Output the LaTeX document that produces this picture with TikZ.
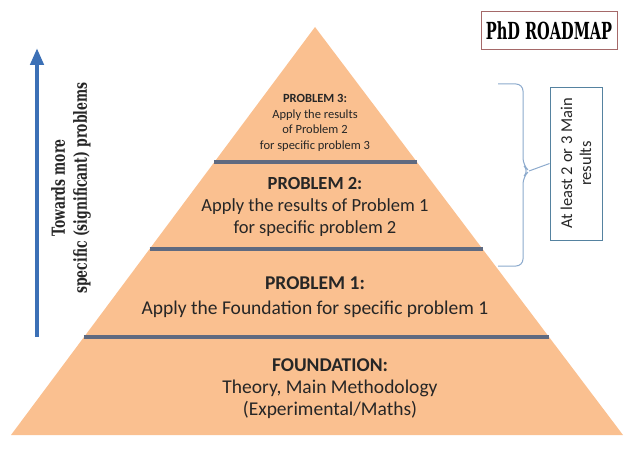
\documentclass[tikz,border=0pt]{standalone}
\usepackage{fontspec}
\setmainfont{Carlito}
\newfontfamily\slabfont{DejaVu Serif}
\usepackage{tikz}
\usetikzlibrary{arrows.meta,calc}
\definecolor{peach}{HTML}{FAC090}
\definecolor{sepgray}{RGB}{95,106,128}
\definecolor{arrowblue}{RGB}{60,112,182}
\definecolor{bracegray}{RGB}{140,170,205}
\definecolor{noteblue}{RGB}{85,130,160}
\definecolor{titlered}{RGB}{165,105,105}
\definecolor{inktext}{RGB}{38,38,38}

\begin{document}
\begin{tikzpicture}[x=1pt, y=-1pt,
    sep/.style={draw=sepgray, line width=3.5pt},
    level/.style={align=center, text=inktext, inner sep=0pt},
    uparrow/.style={draw=arrowblue, line width=4.5pt, -{Triangle[length=17pt, width=13pt]}},
    notebox/.style={draw=noteblue, line width=0.9pt, rotate=90, align=center, text=inktext,
      minimum width=153pt, minimum height=52pt, inner sep=0pt, font=\fontsize{16.5}{19}\selectfont},
    titlebox/.style={draw=titlered, line width=1pt, minimum width=136pt, minimum height=38pt, inner sep=0pt}]
  \useasboundingbox (0,0) rectangle (638,452);

  % Pyramid
  \coordinate (apex) at (315,27);
  \coordinate (bl) at (11,435);
  \coordinate (br) at (623,435);
  \fill[peach] (bl) -- (apex) -- (br) -- cycle;

  % Level separators
  \draw[sep] ($(apex)!0.331!(bl)$) -- ($(apex)!0.331!(br)$);
  \draw[sep] ($(apex)!0.544!(bl)$) -- ($(apex)!0.544!(br)$);
  \draw[sep] ($(apex)!0.760!(bl)$) -- ($(apex)!0.760!(br)$);

  % Levels
  \node[level, font=\fontsize{12.5}{15.5}\selectfont] (prob3) at (315,123)
    {\textbf{PROBLEM 3:}\\Apply the results\\of Problem 2\\for specific problem 3};
  \node[level, font=\fontsize{18.5}{22}\selectfont] (prob2) at (315,207)
    {\textbf{PROBLEM 2:}\\Apply the results of Problem 1\\for specific problem 2};
  \node[level, font=\fontsize{19.5}{25}\selectfont] (prob1) at (315,297)
    {\textbf{PROBLEM 1:}\\Apply the Foundation for specific problem 1};
  \node[level, font=\fontsize{19.5}{22}\selectfont] (found) at (330,389)
    {\textbf{FOUNDATION:}\\Theory, Main Methodology\\(Experimental/Maths)};

  % Title
  \node[titlebox] (title) at (549,31)
    {\slabfont\bfseries\fontsize{23.5}{23.5}\selectfont\scalebox{0.62}[1]{PhD ROADMAP}};

  % Direction arrow
  \coordinate (arrbot) at (37,337);
  \coordinate (arrtop) at (37,48);
  \draw[uparrow] (arrbot) -- (arrtop);
  \node[rotate=90, align=center, text=inktext, inner sep=0pt,
    font=\slabfont\bfseries\fontsize{18}{22}\selectfont] (towards) at (71,188)
    {\scalebox{0.69}[1]{Towards more}\\\scalebox{0.69}[1]{specific (significant) problems}};

  % Brace and note
  \node[notebox] (results) at (576,163.5) {At least 2 or 3 Main\\results};
  \coordinate (tip) at (529,171);
  \draw[bracegray, line width=1pt, rounded corners=7pt]
    (498,84) -| (523,165) -- (tip) -- (523,177) |- (498,266);
  \draw[bracegray, line width=1pt] (tip) -- (results.north);
\end{tikzpicture}
\end{document}
